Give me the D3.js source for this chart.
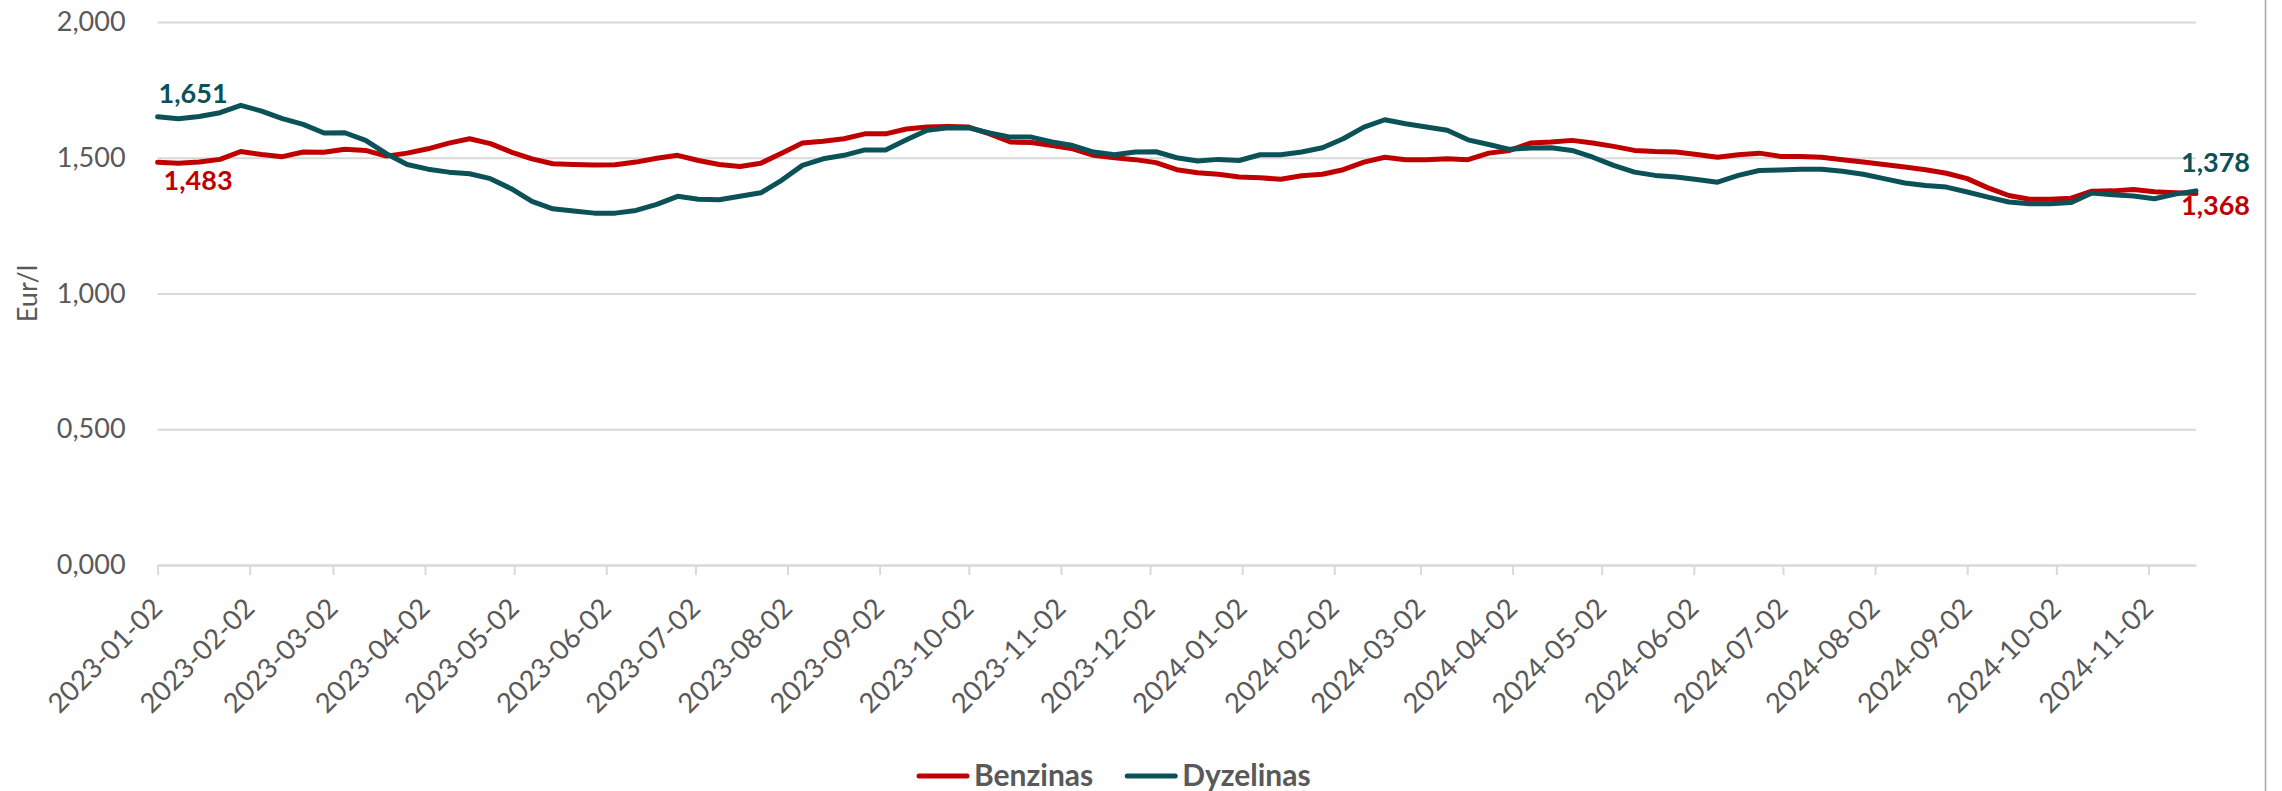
<!DOCTYPE html>
<html>
<head>
<meta charset="utf-8">
<script src="https://cdn.jsdelivr.net/npm/d3@7"></script>
<style>
  body { margin: 0; background: #fff; }
  svg { display: block; font-family: Lato, "Open Sans", sans-serif; }
</style>
</head>
<body>
<svg id="chart"></svg>
<script>
const size = { w: 2282, h: 791 };
const margin = { t: 22, r: 86, b: 226, l: 157.6 };

// weekly data, Mondays
const firstWeek = "2023-01-02";
const lastWeek = "2024-11-18";

const tickLabels = [
	"2023-01-02", "2023-02-02", "2023-03-02", "2023-04-02", "2023-05-02", "2023-06-02",
	"2023-07-02", "2023-08-02", "2023-09-02", "2023-10-02", "2023-11-02", "2023-12-02",
	"2024-01-02", "2024-02-02", "2024-03-02", "2024-04-02", "2024-05-02", "2024-06-02",
	"2024-07-02", "2024-08-02", "2024-09-02", "2024-10-02", "2024-11-02",
];
const yTicks = [0, 0.5, 1, 1.5, 2];

const benzinas = [
	1.483, 1.480, 1.484, 1.494, 1.523, 1.512, 1.504, 1.521, 1.520, 1.531,
	1.527, 1.506, 1.517, 1.533, 1.554, 1.570, 1.552, 1.521, 1.496, 1.478,
	1.475, 1.473, 1.474, 1.484, 1.498, 1.509, 1.490, 1.475, 1.468, 1.480,
	1.517, 1.554, 1.561, 1.570, 1.588, 1.588, 1.606, 1.613, 1.615, 1.613,
	1.588, 1.558, 1.556, 1.545, 1.533, 1.509, 1.500, 1.493, 1.482, 1.456,
	1.445, 1.439, 1.429, 1.426, 1.421, 1.434, 1.439, 1.456, 1.484, 1.502,
	1.493, 1.493, 1.496, 1.493, 1.517, 1.527, 1.554, 1.558, 1.564, 1.554,
	1.542, 1.527, 1.523, 1.521, 1.512, 1.502, 1.511, 1.517, 1.505, 1.505,
	1.502, 1.493, 1.484, 1.475, 1.466, 1.456, 1.443, 1.423, 1.389, 1.361,
	1.347, 1.347, 1.351, 1.377, 1.378, 1.383, 1.375, 1.371, 1.368,
];
const dyzelinas = [
	1.651, 1.644, 1.652, 1.666, 1.693, 1.672, 1.644, 1.623, 1.591, 1.592,
	1.564, 1.515, 1.475, 1.458, 1.447, 1.441, 1.423, 1.386, 1.339, 1.312,
	1.304, 1.296, 1.296, 1.306, 1.328, 1.358, 1.347, 1.345, 1.358, 1.371,
	1.417, 1.472, 1.496, 1.509, 1.529, 1.529, 1.566, 1.601, 1.610, 1.610,
	1.591, 1.576, 1.576, 1.558, 1.545, 1.521, 1.511, 1.521, 1.522, 1.500,
	1.488, 1.494, 1.490, 1.511, 1.511, 1.521, 1.537, 1.570, 1.613, 1.640,
	1.625, 1.613, 1.601, 1.566, 1.549, 1.531, 1.536, 1.537, 1.527, 1.502,
	1.472, 1.447, 1.435, 1.429, 1.420, 1.410, 1.435, 1.453, 1.455, 1.458,
	1.458, 1.450, 1.439, 1.423, 1.407, 1.398, 1.392, 1.374, 1.355, 1.337,
	1.331, 1.331, 1.335, 1.370, 1.364, 1.359, 1.349, 1.366, 1.378,
];

const seriesNames = ["Benzinas", "Dyzelinas"];
const colors = ["#c00000", "#0b5258"];
const textGray = "#595959";
const gridGray = "#d9d9d9";

const parseDate = d3.utcParse("%Y-%m-%d");
const weeks = d3.utcMonday.range(parseDate(firstWeek), d3.utcDay.offset(parseDate(lastWeek), 1));
const ltFormat = d3.formatLocale({ decimal: ",", thousands: " ", grouping: [3], currency: ["", " €"] }).format(".3f");

const svg = d3.select("svg#chart").attr("width", size.w).attr("height", size.h);

const w = size.w - margin.l - margin.r;
const h = size.h - margin.t - margin.b;

const containerG = svg.append("g").attr("transform", `translate(${margin.l}, ${margin.t})`);

const x = d3.scaleUtc().domain([weeks[0], weeks[weeks.length - 1]]).range([0, w]);
const y = d3.scaleLinear().domain([0, 2]).range([h, 0]);

// y grid + labels
const yAxis = containerG
	.append("g")
	.call(d3.axisLeft(y).tickValues(yTicks).tickSize(-w).tickPadding(32).tickFormat(ltFormat));
yAxis.select(".domain").remove();
yAxis.selectAll("line").attr("stroke", gridGray).attr("stroke-width", 2);
yAxis
	.selectAll("text")
	.attr("fill", textGray)
	.style("font-size", "27px")
	.style("font-family", "Lato, sans-serif");

// x axis
const xAxis = containerG
	.append("g")
	.attr("transform", `translate(0, ${h})`)
	.call(
		d3.axisBottom(x)
			.tickValues(tickLabels.map(parseDate))
			.tickSizeInner(10)
			.tickSizeOuter(0)
			.tickFormat(d3.utcFormat("%Y-%m-%d"))
	);
xAxis.select(".domain").attr("stroke", gridGray).attr("stroke-width", 2);
xAxis.selectAll("line").attr("stroke", gridGray).attr("stroke-width", 2);
xAxis
	.selectAll("text")
	.attr("fill", textGray)
	.attr("x", 0)
	.attr("y", 0)
	.attr("dy", 0)
	.attr("text-anchor", "end")
	.attr("transform", "translate(6, 45) rotate(-45)")
	.style("font-size", "27.5px")
	.style("font-family", "Lato, sans-serif");

// y axis title
svg.append("text")
	.attr("transform", `translate(28, ${y(1) + margin.t}) rotate(-90)`)
	.attr("text-anchor", "middle")
	.attr("dy", "0.35em")
	.attr("fill", textGray)
	.style("font-size", "27px")
	.text("Eur/l");

// lines
const series = [benzinas, dyzelinas];
const line = d3.line().x((d, i) => x(weeks[i])).y((d) => y(d));

containerG
	.selectAll("path.series")
	.data(series)
	.join("path")
	.classed("series", true)
	.attr("d", line)
	.attr("fill", "none")
	.attr("stroke", (d, i) => colors[i])
	.attr("stroke-width", 5)
	.attr("stroke-linejoin", "round")
	.attr("stroke-linecap", "round");

// end labels
const last = weeks.length - 1;
const endLabels = [
	{ s: 1, i: 0, dx: 1, dy: -14 },
	{ s: 0, i: 0, dx: 6, dy: 28 },
	{ s: 1, i: last, dx: -15, dy: -19 },
	{ s: 0, i: last, dx: -15, dy: 21 },
];
containerG
	.selectAll("text.endlabel")
	.data(endLabels)
	.join("text")
	.classed("endlabel", true)
	.attr("x", (d) => x(weeks[d.i]) + d.dx)
	.attr("y", (d) => y(series[d.s][d.i]) + d.dy)
	.attr("fill", (d) => colors[d.s])
	.style("font-size", "27px")
	.style("font-weight", "bold")
	.text((d) => ltFormat(series[d.s][d.i]));

// legend
const legendG = svg.append("g").attr("transform", "translate(916, 776)");
let lx = 0;
seriesNames.forEach((name, i) => {
	legendG.append("line")
		.attr("x1", lx + 3).attr("x2", lx + 51)
		.attr("y1", 0).attr("y2", 0)
		.attr("stroke", colors[i])
		.attr("stroke-width", 5)
		.attr("stroke-linecap", "round");
	const t = legendG.append("text")
		.attr("x", lx + 58)
		.attr("y", 10)
		.attr("fill", textGray)
		.style("font-size", "30px")
		.style("font-weight", "bold")
		.text(name);
	lx += 58 + t.node().getComputedTextLength() + 31;
});

// chart frame edge on the right
svg.append("line")
	.attr("x1", 2265.5).attr("x2", 2265.5)
	.attr("y1", 0).attr("y2", size.h)
	.attr("stroke", "#a6a6a6")
	.attr("stroke-width", 1.5);
</script>
</body>
</html>
